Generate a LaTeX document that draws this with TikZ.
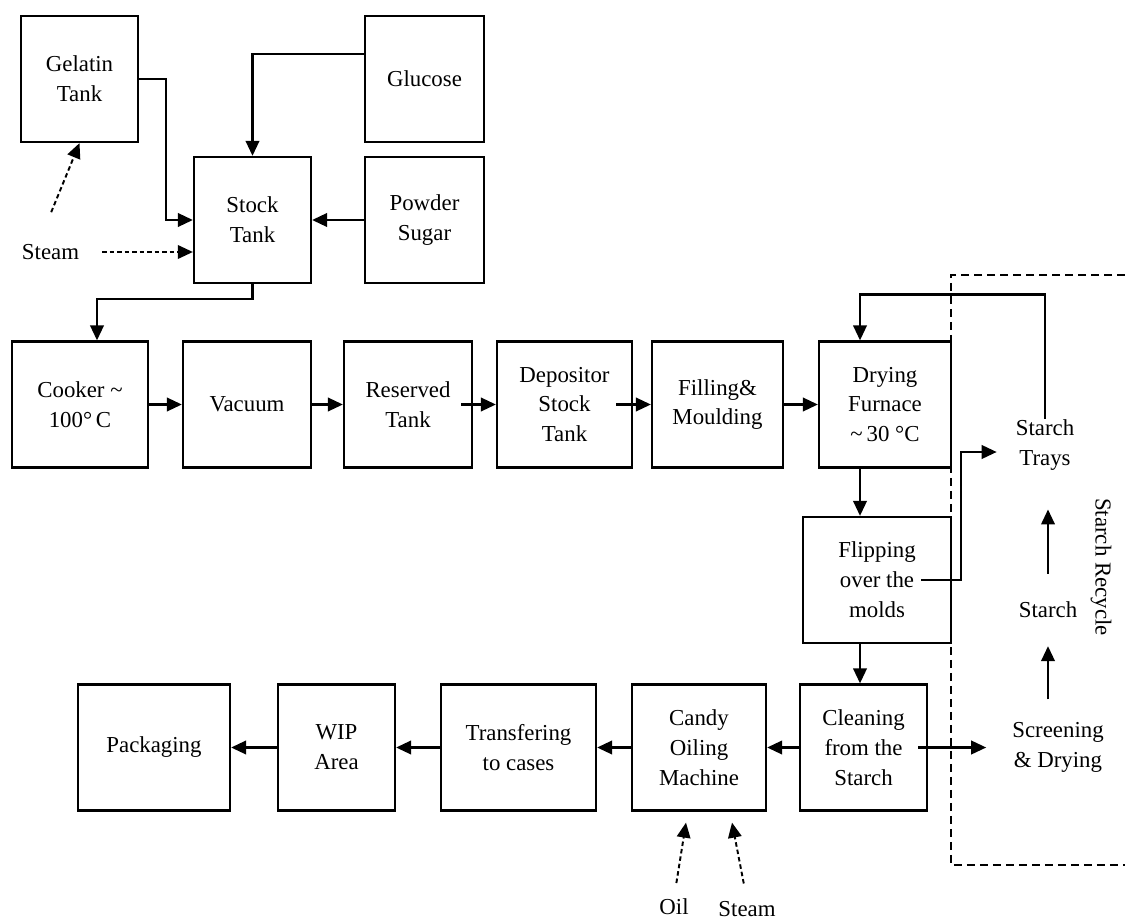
\documentclass[tikz,border=0pt]{standalone}
\usepackage{fontspec}
\setmainfont{Liberation Serif}
\usetikzlibrary{arrows.meta}

\begin{document}
\begin{tikzpicture}[x=0.02cm,y=-0.02cm,line width=1.3pt,>={Triangle[length=0.3cm,width=0.27cm]},
  box/.style={draw,minimum height=2.52cm,align=center,inner sep=2pt,font=\fontsize{13}{17}\selectfont},
  lbl/.style={align=center,inner sep=0pt,font=\fontsize{13}{17}\selectfont},
  feed/.style={->,line width=1.1pt,dash pattern=on 0.09cm off 0.06cm}]
\useasboundingbox (0,0) rectangle (1125,922);
% supply tanks
\node[box,minimum width=2.34cm] (gel) at (79.5,79) {Gelatin\\Tank};
\node[box,minimum width=2.38cm] (glu) at (424.5,79) {Glucose};
\node[box,minimum width=2.34cm] (stock) at (252.5,220) {Stock\\Tank};
\node[box,minimum width=2.38cm] (pow) at (424.5,220) {Powder\\Sugar};
\node[lbl] (steamA) at (50.5,252) {Steam};
% main line
\node[box,minimum width=2.72cm] (cook) at (80,404.5) {Cooker \textasciitilde\\100\textdegree\,C};
\node[box,minimum width=2.56cm] (vac) at (247,404.5) {Vacuum};
\node[box,minimum width=2.56cm] (res) at (408,404.5) {Reserved\\Tank};
\node[box,minimum width=2.70cm] (dep) at (564.5,404.5) {Depositor\\Stock\\Tank};
\node[box,minimum width=2.62cm] (fill) at (717.5,404.5) {Filling\&\\Moulding};
\node[box,minimum width=2.64cm] (dry) at (885,404.5) {Drying\\Furnace\\\textasciitilde\,30 \textdegree C};
\node[box,minimum width=2.96cm] (flip) at (877,580) {Flipping\\over the\\molds};
% finishing line
\node[box,minimum width=2.54cm] (clean) at (863.5,747.5) {Cleaning\\from the\\Starch};
\node[box,minimum width=2.68cm] (candy) at (699,747.5) {Candy\\Oiling\\Machine};
\node[box,minimum width=3.10cm] (trans) at (518.5,747.5) {Transfering\\to cases};
\node[box,minimum width=2.34cm] (wip) at (336.5,747.5) {WIP\\Area};
\node[box,minimum width=3.04cm] (pack) at (154,747.5) {Packaging};
\node[lbl] (oil) at (674,907) {Oil};
\node[lbl] (steamB) at (747,909) {Steam};
% starch recycle
\node[lbl] (trays) at (1045,445) {Starch\\Trays};
\node[lbl,minimum height=1.4cm] (starch) at (1048,610) {Starch};
\node[lbl] (screen) at (1058,747.5) {Screening\\\& Drying};
\node[lbl,rotate=-90] (recycle) at (1101,567) {Starch Recycle};
\draw[line width=1pt,dash pattern=on 0.16cm off 0.1cm] (1125,275) -- (951,275) -- (951,865) -- (1125,865);

% inputs into the stock tank
\draw[->] (gel.east) -- ++(27,0) |- (stock.west);
\draw[->] ([yshift=0.5cm]glu.west) -| (stock.north);
\draw[->] (pow.west) -- (stock.east);
\draw[feed,shorten <=0.67cm] ([xshift=-0.24cm]steamA.north) -- (gel.south);
\draw[feed] ([xshift=0.44cm]steamA.east) -- (stock.west |- steamA.east);
% main line
\draw[->] (stock.south) -- ++(0,15) -| ([xshift=0.34cm]cook.north);
\draw[->] (cook.east) -- (vac.west);
\draw[->] (vac.east) -- (res.west);
\draw[->] ([xshift=-0.24cm]res.east) -- (dep.west);
\draw[->] ([xshift=-0.34cm]dep.east) -- (fill.west);
\draw[->] (fill.east) -- (dry.west);
\coordinate (dryout) at ([xshift=-0.5cm]dry.south);
\draw[->] (dryout) -- (dryout |- flip.north);
\draw[->] (dryout |- flip.south) -- (dryout |- clean.north);
% starch loop
\draw[->] (trays.north) -- ++(0,-124) -| (dryout |- dry.north);
\draw[->] ([xshift=-0.62cm]flip.east) -- ++(40,0) |- ([xshift=-0.36cm,yshift=-0.14cm]trays.west);
\draw[->] ([xshift=-0.2cm]clean.east) -- ([xshift=-0.5cm]screen.west);
\draw[->,shorten <=0.44cm] (starch.south |- screen.north) -- (starch.south);
\draw[->,shorten >=0.76cm] (starch.north) -- (starch.north |- trays.south);
% finishing line
\draw[->] (clean.west) -- (candy.east);
\draw[->] (candy.west) -- (trans.east);
\draw[->] (trans.west) -- (wip.east);
\draw[->] (wip.west) -- (pack.east);
\draw[feed,shorten <=0.3cm] (oil.north) -- ([xshift=-0.26cm,yshift=-0.22cm]candy.south);
\draw[feed,shorten <=0.34cm] (steamB.north) -- ([xshift=0.66cm,yshift=-0.22cm]candy.south);
\end{tikzpicture}
\end{document}
